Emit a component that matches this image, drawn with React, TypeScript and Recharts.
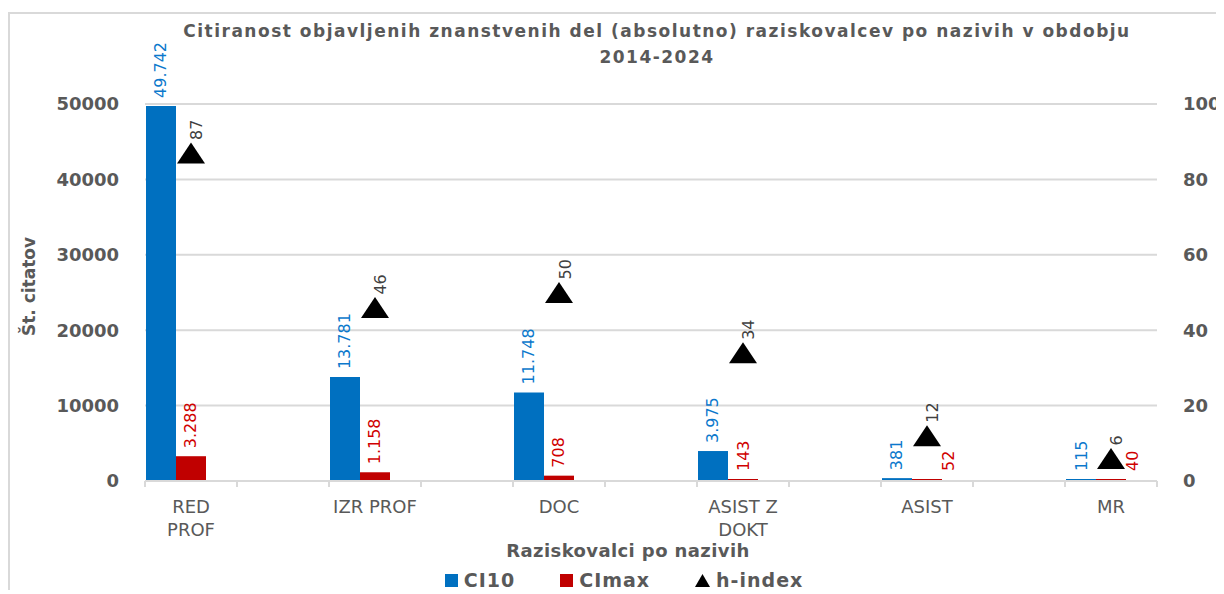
import { Bar, CartesianGrid, ComposedChart, Legend, Scatter, XAxis, YAxis } from "recharts";

const categories = ["RED PROF", "IZR PROF", "DOC", "ASIST Z DOKT", "ASIST", "MR"];
const tickLines: Record<string, string[]> = {
  "RED PROF": ["RED", "PROF"],
  "ASIST Z DOKT": ["ASIST Z", "DOKT"],
};
const ci10 = [49742, 13781, 11748, 3975, 381, 115];
const ciMax = [3288, 1158, 708, 143, 52, 40];
const hIndex = [87, 46, 50, 34, 12, 6];
const leftTicks = [0, 10000, 20000, 30000, 40000, 50000];
const rightTicks = [0, 20, 40, 60, 80, 100];

// Excel source leaves an empty slot between every two categories
const data: any[] = categories.flatMap((name, i) => {
  const row = { name, ci10: ci10[i], ciMax: ciMax[i], h: hIndex[i] };
  return i < categories.length - 1 ? [row, { name: `gap-${i}` }] : [row];
});

const CHART_W = 1214;
const CHART_H = 580;
const LEFT_W = 135;
const RIGHT_W = 67;
const PLOT_W = CHART_W - LEFT_W - RIGHT_W;
const HALF_BAND = PLOT_W / data.length / 2;

const BLUE = "#0070C0";
const RED = "#C00000";
const GRID = "#d9d9d9";
const TEXT = "#595959";
const FONT = "DejaVu Sans";

const fmt = (n: number) => String(n).replace(/\B(?=(\d{3})+(?!\d))/g, ".");

// avoidMarker: push the CImax label aside when the h-index marker sits low above it
function barLabel(color: string, avoidMarker = false) {
  return (props: any) => {
    const { x, y, width, value } = props;
    if (value == null) return null;
    const h = hIndex[ciMax.indexOf(Number(value))];
    const dx = avoidMarker && h != null && h < 20 ? 21 : 0;
    const cx = Number(x) + Number(width) / 2 + dx;
    const cy = Number(y) - 8;
    return (
      <text
        x={cx}
        y={cy}
        transform={`rotate(-90, ${cx}, ${cy})`}
        textAnchor="start"
        dominantBaseline="central"
        fill={color}
        fontSize={16}
        fontFamily={FONT}
      >
        {fmt(value)}
      </text>
    );
  };
}

function TriangleMark(props: any) {
  const { cx, cy, payload } = props;
  if (payload?.h == null || !Number.isFinite(cy)) return <g />;
  const lx = cx + 6;
  const ly = cy - 13;
  return (
    <g>
      <polygon
        points={`${cx},${cy - 10.5} ${cx - 14},${cy + 10.5} ${cx + 14},${cy + 10.5}`}
        fill="#000"
      />
      <text
        x={lx}
        y={ly}
        transform={`rotate(-90, ${lx}, ${ly})`}
        textAnchor="start"
        dominantBaseline="central"
        fill="#404040"
        fontSize={16}
        fontFamily={FONT}
      >
        {payload.h}
      </text>
    </g>
  );
}

function CategoryTick(props: any) {
  const { x, y, payload, index } = props;
  const axisY = y - 8;
  const lines = tickLines[payload.value] ?? (categories.includes(payload.value) ? [payload.value] : []);
  return (
    <g>
      <line x1={x - HALF_BAND} x2={x - HALF_BAND} y1={axisY} y2={axisY + 6} stroke={GRID} strokeWidth={2} />
      {index === data.length - 1 && (
        <line x1={x + HALF_BAND} x2={x + HALF_BAND} y1={axisY} y2={axisY + 6} stroke={GRID} strokeWidth={2} />
      )}
      {lines.map((line, i) => (
        <text
          key={line}
          x={x}
          y={axisY + 32 + i * 23}
          textAnchor="middle"
          fill={TEXT}
          fontSize={18}
          fontFamily={FONT}
        >
          {line}
        </text>
      ))}
    </g>
  );
}

function YTitle(props: any) {
  const { viewBox } = props;
  const x = viewBox.x + 19;
  const y = viewBox.y + viewBox.height / 2 - 6;
  return (
    <text
      x={x}
      y={y}
      transform={`rotate(-90, ${x}, ${y})`}
      textAnchor="middle"
      dominantBaseline="central"
      fill={TEXT}
      fontSize={17}
      fontWeight="bold"
      fontFamily={FONT}
    >
      Št. citatov
    </text>
  );
}

function LegendRow() {
  const label = { color: TEXT, fontSize: 19, fontWeight: 700, fontFamily: FONT, letterSpacing: 1 };
  const swatch = (color: string) => (
    <span style={{ display: "inline-block", width: 13, height: 13, background: color, marginRight: 6 }} />
  );
  return (
    <div
      style={{
        height: 33,
        boxSizing: "border-box",
        paddingTop: 5,
        paddingLeft: 14,
        display: "flex",
        justifyContent: "center",
        alignItems: "center",
      }}
    >
      <span style={{ display: "flex", alignItems: "center" }}>
        {swatch(BLUE)}
        <span style={label}>CI10</span>
      </span>
      <span style={{ display: "flex", alignItems: "center", marginLeft: 45 }}>
        {swatch(RED)}
        <span style={label}>CImax</span>
      </span>
      <span style={{ display: "flex", alignItems: "center", marginLeft: 45 }}>
        <svg width={15} height={13} style={{ marginRight: 6 }}>
          <polygon points="7.5,0 0,13 15,13" fill="#000" />
        </svg>
        <span style={label}>h-index</span>
      </span>
    </div>
  );
}

export default function App() {
  const tickStyle = { fill: TEXT, fontSize: 18, fontWeight: 700, fontFamily: FONT };
  return (
    <div
      style={{
        position: "relative",
        top: 4,
        width: CHART_W,
        height: CHART_H,
        borderLeft: `2px solid ${GRID}`,
        borderTop: `2px solid ${GRID}`,
      }}
    >
      <div
        style={{
          position: "absolute",
          top: 4,
          left: 47,
          width: 1200,
          textAlign: "center",
          fontFamily: FONT,
          fontWeight: 700,
          fontSize: 17,
          lineHeight: "26px",
          letterSpacing: 1.5,
          color: TEXT,
        }}
      >
        Citiranost objavljenih znanstvenih del (absolutno) raziskovalcev po nazivih v obdobju
        <br />
        2014-2024
      </div>
      <ComposedChart
        width={CHART_W}
        height={CHART_H}
        data={data}
        margin={{ top: 90, right: 0, bottom: 0, left: 0 }}
        barCategoryGap={1}
        barGap={0}
      >
        <CartesianGrid vertical={false} stroke={GRID} strokeWidth={2} yAxisId="left" />
        <XAxis
          dataKey="name"
          interval={0}
          height={80}
          tickLine={false}
          tickSize={6}
          tickMargin={2}
          axisLine={{ stroke: GRID, strokeWidth: 2 }}
          tick={<CategoryTick />}
          label={{
            value: "Raziskovalci po nazivih",
            position: "insideBottom",
            offset: 4,
            dx: -23,
            fill: TEXT,
            fontSize: 18,
            fontWeight: 700,
            fontFamily: FONT,
            letterSpacing: 0.4,
          }}
        />
        <YAxis
          yAxisId="left"
          width={LEFT_W}
          domain={[0, 50000]}
          ticks={leftTicks}
          tickLine={false}
          axisLine={false}
          tickSize={6}
          tickMargin={20}
          tick={tickStyle}
          label={<YTitle />}
        />
        <YAxis
          yAxisId="right"
          orientation="right"
          width={RIGHT_W}
          domain={[0, 100]}
          ticks={rightTicks}
          tickLine={false}
          axisLine={false}
          tickSize={6}
          tickMargin={20}
          tick={{ ...tickStyle, textAnchor: "start" }}
        />
        <Legend verticalAlign="bottom" content={() => <LegendRow />} />
        <Bar
          yAxisId="left"
          dataKey="ci10"
          name="CI10"
          fill={BLUE}
          minPointSize={2}
          isAnimationActive={false}
          label={barLabel("#0B78CC")}
        />
        <Bar
          yAxisId="left"
          dataKey="ciMax"
          name="CImax"
          fill={RED}
          minPointSize={2}
          isAnimationActive={false}
          label={barLabel("#D00000", true)}
        />
        <Bar yAxisId="left" dataKey="slot" fill="none" legendType="none" isAnimationActive={false} />
        <Scatter yAxisId="right" dataKey="h" name="h-index" shape={<TriangleMark />} isAnimationActive={false} />
      </ComposedChart>
    </div>
  );
}
